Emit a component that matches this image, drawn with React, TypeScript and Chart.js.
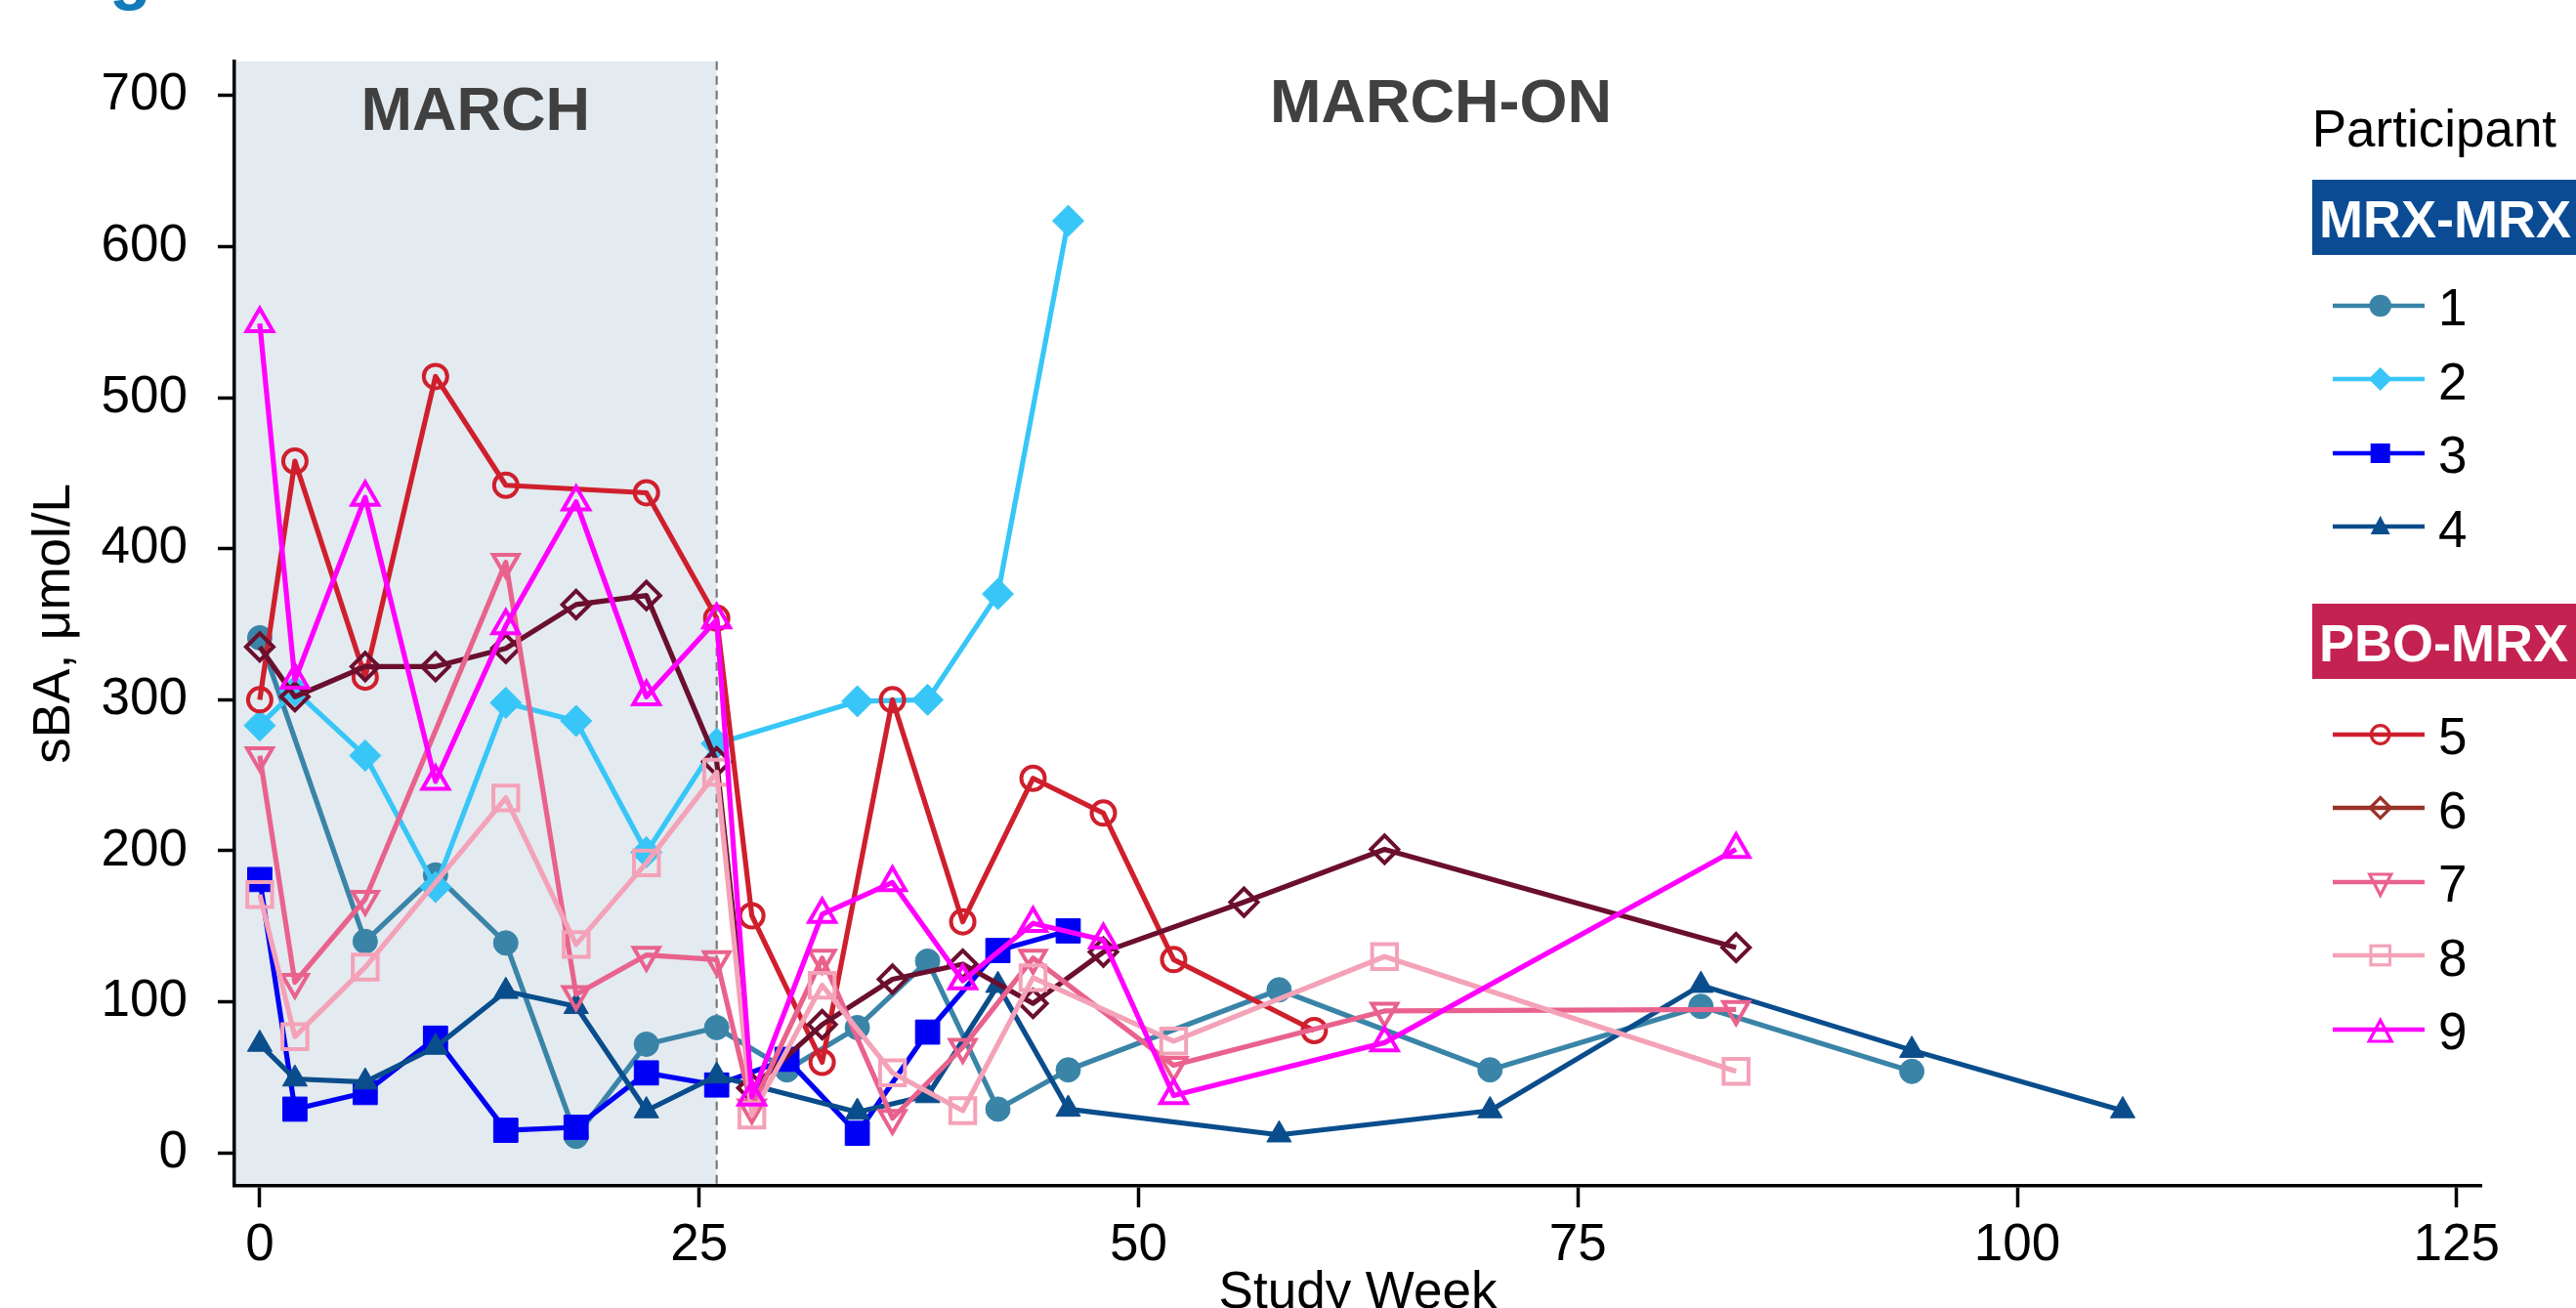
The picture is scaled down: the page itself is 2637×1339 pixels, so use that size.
import React, { useEffect, useRef } from 'react';
import { Chart, registerables } from 'chart.js';

Chart.register(...registerables);

// ---------------- data ----------------
const xTicks = [0, 25, 50, 75, 100, 125];
const yTicks = [0, 100, 200, 300, 400, 500, 600, 700];

const p1Weeks = [0, 6, 10, 14, 18, 22, 26, 30, 34, 38, 42, 46, 58, 70, 82, 94];
const p1Values = [341, 140, 184, 139, 11, 72, 83, 55, 83, 127, 29, 55, 108, 55, 97, 54];

const p2Weeks = [0, 2, 6, 10, 14, 18, 22, 26, 34, 38, 42, 46];
const p2Values = [283, 306, 263, 176, 298, 286, 199, 271, 299, 300, 370, 617];

const p3Weeks = [0, 2, 6, 10, 14, 18, 22, 26, 30, 34, 38, 42, 46];
const p3Values = [181, 29, 40, 76, 15, 17, 53, 45, 62, 13, 80, 134, 147];

const p4Weeks = [0, 2, 6, 10, 14, 18, 22, 26, 34, 38, 42, 46, 58, 70, 82, 94, 106];
const p4Values = [72, 49, 47, 70, 107, 97, 28, 51, 27, 38, 111, 29, 12, 28, 111, 68, 28];

const p5Weeks = [0, 2, 6, 10, 14, 22, 26, 28, 32, 36, 40, 44, 48, 52, 60];
const p5Values = [300, 458, 315, 514, 442, 437, 354, 157, 60, 300, 153, 248, 225, 128, 81];

const p6Weeks = [0, 2, 6, 10, 14, 18, 22, 26, 28, 32, 36, 40, 44, 48, 56, 64, 84];
const p6Values = [335, 302, 322, 322, 334, 363, 369, 259, 43, 85, 115, 125, 99, 133, 166, 201, 136];

const p7Weeks = [0, 2, 6, 14, 18, 22, 26, 28, 32, 36, 40, 44, 52, 64, 84];
const p7Values = [263, 113, 168, 391, 105, 131, 128, 30, 129, 23, 70, 129, 58, 94, 95];

const p8Weeks = [0, 2, 6, 14, 18, 22, 26, 28, 32, 36, 40, 44, 52, 64, 84];
const p8Values = [171, 77, 123, 235, 138, 192, 252, 25, 111, 53, 28, 116, 74, 130, 54];

const p9Weeks = [0, 2, 6, 10, 14, 18, 22, 26, 28, 32, 36, 40, 44, 48, 52, 64, 84];
const p9Values = [549, 313, 434, 246, 349, 431, 302, 353, 37, 158, 179, 114, 152, 141, 38, 73, 201];

const PHASE_SPLIT_WEEK = 26;
const MARCH_ON_LABEL_WEEK = 67.2;

// ---------------- styles ----------------
const X_MIN = -1.44;
const X_MAX = 126.4;
const Y_MIN = -21.8;
const Y_MAX = 722.6;

const FONT = '"Liberation Sans", Arial, Helvetica, sans-serif';

type Shape = 'circle' | 'rectRot' | 'rect' | 'triangle' | 'triangleDown';

interface Participant {
  id: string;
  weeks: number[];
  values: number[];
  color: string;
  legendColor: string;
  shape: Shape;
  filled: boolean;
  radius: number;
}

const participants: Participant[] = [
  { id: '1', weeks: p1Weeks, values: p1Values, color: '#3A84A8', legendColor: '#3A84A8', shape: 'circle', filled: true, radius: 12.5 },
  { id: '2', weeks: p2Weeks, values: p2Values, color: '#37C6F7', legendColor: '#37C6F7', shape: 'rectRot', filled: true, radius: 16 },
  { id: '3', weeks: p3Weeks, values: p3Values, color: '#0000F5', legendColor: '#0000F5', shape: 'rect', filled: true, radius: 17.5 },
  { id: '4', weeks: p4Weeks, values: p4Values, color: '#0A4D8C', legendColor: '#0A4D8C', shape: 'triangle', filled: true, radius: 14.5 },
  { id: '5', weeks: p5Weeks, values: p5Values, color: '#CF1F2D', legendColor: '#CF1F2D', shape: 'circle', filled: false, radius: 12 },
  { id: '6', weeks: p6Weeks, values: p6Values, color: '#6B0F2E', legendColor: '#9A3228', shape: 'rectRot', filled: false, radius: 14 },
  { id: '7', weeks: p7Weeks, values: p7Values, color: '#E9628D', legendColor: '#E9628D', shape: 'triangleDown', filled: false, radius: 15 },
  { id: '8', weeks: p8Weeks, values: p8Values, color: '#F4A2B8', legendColor: '#F4A2B8', shape: 'rect', filled: false, radius: 18 },
  { id: '9', weeks: p9Weeks, values: p9Values, color: '#FF00FF', legendColor: '#FF00FF', shape: 'triangle', filled: false, radius: 15.5 },
];

const groups = [
  { name: 'MRX-MRX', color: '#0A4B94', ids: ['1', '2', '3', '4'], boxTop: 184, firstItemY: 312.7 },
  { name: 'PBO-MRX', color: '#C42251', ids: ['5', '6', '7', '8', '9'], boxTop: 618.3, firstItemY: 751.7 },
];

const phasePlugin = {
  id: 'phasePlugin',
  beforeDraw(chart: any) {
    const { ctx, chartArea, scales } = chart;
    const split = scales.x.getPixelForValue(PHASE_SPLIT_WEEK);
    ctx.save();
    ctx.fillStyle = '#E3EAF0';
    ctx.fillRect(chartArea.left, chartArea.top, split - chartArea.left, chartArea.bottom - chartArea.top);
    ctx.restore();
  },
  beforeDatasetsDraw(chart: any) {
    const { ctx, chartArea, scales } = chart;
    const split = scales.x.getPixelForValue(PHASE_SPLIT_WEEK);
    ctx.save();
    ctx.strokeStyle = '#7A7A7A';
    ctx.lineWidth = 2.2;
    ctx.setLineDash([9, 6]);
    ctx.beginPath();
    ctx.moveTo(split, chartArea.top);
    ctx.lineTo(split, chartArea.bottom - 2);
    ctx.stroke();
    ctx.setLineDash([]);
    ctx.fillStyle = '#404040';
    ctx.font = `bold 63px ${FONT}`;
    ctx.textAlign = 'center';
    ctx.textBaseline = 'alphabetic';
    ctx.fillText('MARCH', (chartArea.left + split) / 2, chartArea.top + 70.5);
    ctx.fillText('MARCH-ON', scales.x.getPixelForValue(MARCH_ON_LABEL_WEEK), chartArea.top + 62.4);
    ctx.restore();
  },
};

function LegendIcon({ p, centerY }: { p: Participant; centerY: number }) {
  const cx = 48.7;
  const cy = 20;
  const c = p.legendColor;
  const fill = p.filled ? c : 'none';
  const sw = p.filled ? 0 : 3.2;
  let marker: any = null;
  if (p.shape === 'circle') {
    marker = <circle cx={cx} cy={cy} r={p.filled ? 11.3 : 9.3} fill={fill} stroke={c} strokeWidth={sw} />;
  } else if (p.shape === 'rectRot') {
    const h = p.filled ? 12 : 10.5;
    marker = <polygon points={`${cx},${cy - h} ${cx + h},${cy} ${cx},${cy + h} ${cx - h},${cy}`} fill={fill} stroke={c} strokeWidth={sw} />;
  } else if (p.shape === 'rect') {
    const s = p.filled ? 20 : 19.5;
    marker = <rect x={cx - s / 2} y={cy - s / 2} width={s} height={s} fill={fill} stroke={c} strokeWidth={sw} />;
  } else if (p.shape === 'triangle') {
    const pts = p.filled
      ? `${cx},${cy - 11} ${cx + 10},${cy + 8} ${cx - 10},${cy + 8}`
      : `${cx},${cy - 9.5} ${cx + 11.5},${cy + 12} ${cx - 11.5},${cy + 12}`;
    marker = <polygon points={pts} fill={fill} stroke={c} strokeWidth={sw} />;
  } else if (p.shape === 'triangleDown') {
    marker = <polygon points={`${cx - 11},${cy - 8} ${cx + 11},${cy - 8} ${cx},${cy + 13.5}`} fill={fill} stroke={c} strokeWidth={sw} />;
  }
  return (
    <svg width={96} height={40} style={{ position: 'absolute', left: 2388, top: centerY - 20 }}>
      <line x1={0} y1={cy} x2={94} y2={cy} stroke={c} strokeWidth={4.7} />
      {marker}
    </svg>
  );
}

function topForBaseline(baseline: number, size: number) {
  return baseline - size * 0.8465;
}

function Legend() {
  const items: any[] = [];
  groups.forEach((g) => {
    items.push(
      <div
        key={g.name}
        style={{
          position: 'absolute', left: 2366.7, top: g.boxTop, width: 300, height: 76.7,
          background: g.color,
        }}
      >
        <div
          style={{
            position: 'absolute', left: 7.4, top: topForBaseline(g.boxTop + 58.4, 54) - g.boxTop,
            fontSize: 54, lineHeight: '54px', fontWeight: 'bold', color: '#fff', whiteSpace: 'nowrap',
          }}
        >
          {g.name}
        </div>
      </div>
    );
    g.ids.forEach((id, i) => {
      const p = participants.find((q) => q.id === id)!;
      const cy = g.firstItemY + i * 75.5;
      items.push(<LegendIcon key={'icon' + id} p={p} centerY={cy} />);
      items.push(
        <div
          key={'lbl' + id}
          style={{
            position: 'absolute', left: 2496, top: topForBaseline(cy + 20.6, 53),
            fontSize: 53, lineHeight: '53px', color: '#000', whiteSpace: 'nowrap',
          }}
        >
          {p.id}
        </div>
      );
    });
  });
  return (
    <>
      <div
        style={{
          position: 'absolute', left: 2366.7, top: topForBaseline(150, 53),
          fontSize: 53, lineHeight: '53px', color: '#000', whiteSpace: 'nowrap',
        }}
      >
        Participant
      </div>
      {items}
    </>
  );
}

export default function App() {
  const canvasRef = useRef<HTMLCanvasElement | null>(null);

  useEffect(() => {
    document.body.style.margin = '0';
    document.body.style.overflow = 'hidden';
    const canvas = canvasRef.current;
    if (!canvas) return;
    Chart.defaults.font.family = FONT;

    const datasets = participants.map((p, idx) => ({
      label: p.id,
      data: p.weeks.map((w, i) => ({ x: w, y: p.values[i] })),
      showLine: true,
      borderColor: p.color,
      backgroundColor: p.color,
      borderWidth: 5.2,
      borderJoinStyle: 'round' as const,
      pointStyle: p.shape === 'triangleDown' ? 'triangle' : p.shape,
      pointRotation: p.shape === 'triangleDown' ? 180 : 0,
      pointRadius: p.radius,
      pointHoverRadius: p.radius,
      pointBackgroundColor: p.filled ? p.color : 'rgba(0,0,0,0)',
      pointBorderColor: p.color,
      pointBorderWidth: p.filled ? 1 : 4,
      pointHoverBorderWidth: p.filled ? 1 : 4,
      tension: 0,
      order: 10 - idx,
      clip: false as any,
    }));

    const chart = new Chart(canvas, {
      type: 'scatter',
      data: { datasets: datasets as any },
      plugins: [phasePlugin],
      options: {
        responsive: false,
        maintainAspectRatio: false,
        animation: false,
        devicePixelRatio: 1,
        layout: { padding: { left: 0, top: 59, right: 97, bottom: 0 } },
        plugins: {
          legend: { display: false },
          tooltip: { enabled: false },
        },
        events: [],
        scales: {
          x: {
            type: 'linear',
            min: X_MIN,
            max: X_MAX,
            afterBuildTicks: (s: any) => {
              s.ticks = xTicks.map((v) => ({ value: v }));
            },
            afterFit: (s: any) => {
              s.height = 142;
            },
            grid: { display: true, drawOnChartArea: false, drawTicks: true, tickLength: 22, tickWidth: 3.5, tickColor: '#000' },
            border: { display: true, color: '#000', width: 3.5 },
            ticks: {
              color: '#000',
              font: { size: 53 },
              padding: 8,
              maxRotation: 0,
              autoSkip: false,
              callback: (v: any) => String(v),
            },
            title: { display: true, text: 'Study Week', color: '#000', font: { size: 53 }, padding: { top: 0, bottom: 0 } },
          },
          y: {
            type: 'linear',
            min: Y_MIN,
            max: Y_MAX,
            afterBuildTicks: (s: any) => {
              s.ticks = yTicks.map((v) => ({ value: v }));
            },
            afterFit: (s: any) => {
              s.width = 240;
            },
            grid: { display: true, drawOnChartArea: false, drawTicks: true, tickLength: 17, tickWidth: 3.5, tickColor: '#000' },
            border: { display: true, color: '#000', width: 3.5 },
            ticks: {
              color: '#000',
              font: { size: 53 },
              padding: 31,
              autoSkip: false,
              callback: (v: any) => String(v),
            },
            title: { display: true, text: 'sBA, μmol/L', color: '#000', font: { size: 53 }, padding: { top: 25, bottom: 0 } },
          },
        },
      } as any,
    });

    return () => {
      chart.destroy();
    };
  }, []);

  return (
    <div
      style={{
        position: 'absolute', left: 0, top: 0, width: 2637, height: 1339, overflow: 'hidden',
        background: '#fff', fontFamily: FONT,
      }}
    >
      <div
        style={{
          position: 'absolute', left: 112, top: topForBaseline(-3.7, 70), fontSize: 70, lineHeight: '70px',
          fontWeight: 'bold', color: '#137BBA',
        }}
      >
        g
      </div>
      <canvas ref={canvasRef} width={2637} height={1356} style={{ position: 'absolute', left: 0, top: 0, width: 2637, height: 1356 }} />
      <Legend />
    </div>
  );
}
